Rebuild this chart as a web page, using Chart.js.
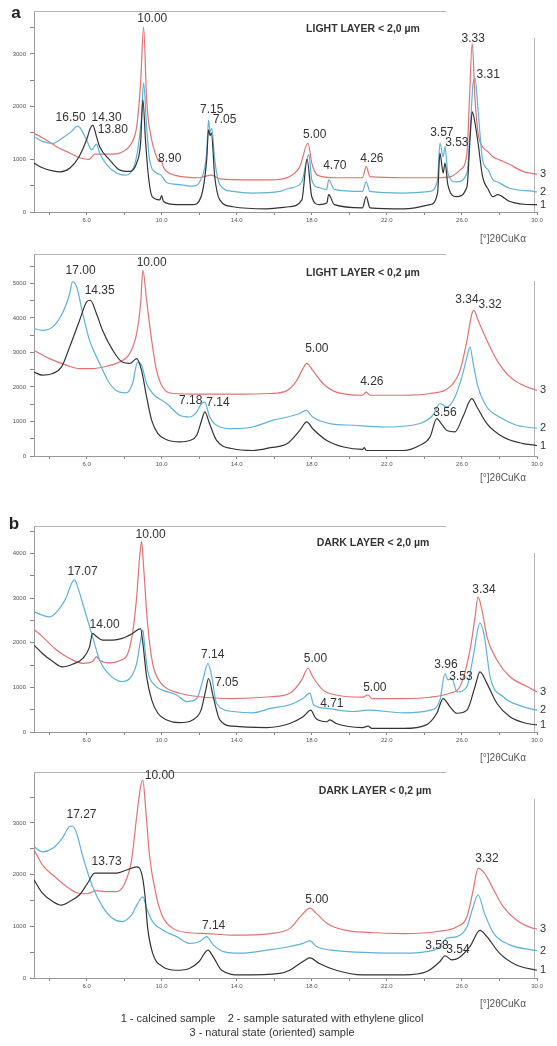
<!DOCTYPE html>
<html>
<head>
<meta charset="utf-8">
<script src="https://cdn.jsdelivr.net/npm/chart.js@4.4.1/dist/chart.umd.min.js"></script>
<style>
body { margin: 0; background: #fff; }
#page { position: relative; width: 557px; height: 1046px; overflow: hidden; font-family: Arial, "Liberation Sans", sans-serif; color: #333; }
canvas { position: absolute; left: 0; }
.t { position: absolute; transform: translate(-50%, -50%); white-space: nowrap; }
.ttl { font-weight: bold; font-size: 10.5px; color: #333; }
.ax { font-size: 10px; color: #555; }
.let { font-weight: bold; font-size: 17px; color: #222; }
.leg { font-size: 11px; color: #333; }
</style>
</head>
<body>
<div id="page">
  <canvas id="c1" width="557" height="232" style="top:0px"></canvas>
  <canvas id="c2" width="557" height="234" style="top:240px"></canvas>
  <canvas id="c3" width="557" height="252" style="top:500px"></canvas>
  <canvas id="c4" width="557" height="238" style="top:760px"></canvas>

  <div class="t let" style="left:16px;top:13px">a</div>
  <div class="t let" style="left:14px;top:524px">b</div>

  <div class="t ttl" style="left:363px;top:28px">LIGHT LAYER &lt; 2,0 µm</div>
  <div class="t ttl" style="left:363px;top:272px">LIGHT LAYER &lt; 0,2 µm</div>
  <div class="t ttl" style="left:373px;top:542px">DARK LAYER &lt; 2,0 µm</div>
  <div class="t ttl" style="left:375px;top:790px">DARK LAYER &lt; 0,2 µm</div>

  <div class="t ax" style="left:503px;top:238px">[°]2θCuKα</div>
  <div class="t ax" style="left:503px;top:477px">[°]2θCuKα</div>
  <div class="t ax" style="left:503px;top:757px">[°]2θCuKα</div>
  <div class="t ax" style="left:503px;top:1003px">[°]2θCuKα</div>

  <div class="t leg" style="left:272px;top:1018px">1 - calcined sample &nbsp;&nbsp; 2 - sample saturated with ethylene glicol</div>
  <div class="t leg" style="left:272px;top:1032px">3 - natural state (oriented) sample</div>
</div>

<script>
// ---- data : [2theta, counts] ----

// a) LIGHT LAYER < 2,0 um
var lightCoarseBlack = [[3.2,930],[3.65,840],[4.2,780],[4.6,760],[5.1,830],[5.6,1050],[6.0,1370],[6.2,1590],[6.33,1650],[6.53,1430],[6.7,1240],[7.23,990],[7.76,800],[8.3,770],[8.67,930],[8.88,1310],[9.0,2130],[9.15,1310],[9.3,670],[9.5,290],[9.9,230],[10.0,310],[10.1,200],[10.8,140],[11.65,140],[12.1,290],[12.4,990],[12.5,1560],[12.58,1450],[12.65,1500],[12.83,670],[13.1,230],[13.8,100],[15.6,60],[16.8,100],[17.47,230],[17.75,1000],[18.0,290],[18.4,140],[18.8,170],[18.9,330],[19.2,140],[20.7,80],[20.9,290],[21.1,80],[22.9,60],[24.3,140],[24.7,360],[24.83,1120],[25.0,740],[25.1,930],[25.25,520],[25.7,290],[26.27,480],[26.43,1370],[26.55,1900],[26.7,1680],[26.86,1310],[27.1,670],[27.4,430],[27.65,290],[27.9,330],[28.55,200],[29.8,140],[30,140]];
var lightCoarseBlue = [[3.2,1430],[3.65,1340],[4.2,1300],[4.7,1400],[5.2,1530],[5.5,1630],[5.65,1600],[6.0,1370],[6.27,1180],[6.53,1290],[6.7,1120],[7.07,900],[7.6,740],[8.03,700],[8.45,800],[8.7,1120],[8.93,1810],[9.04,2450],[9.2,1620],[9.36,990],[9.73,740],[9.97,700],[10.27,560],[10.96,520],[11.65,490],[12.1,620],[12.4,1120],[12.5,1750],[12.58,1520],[12.67,1590],[12.83,990],[13.1,520],[13.8,390],[14.85,360],[16.3,390],[16.8,450],[17.47,570],[17.73,990],[17.85,1090],[18.0,610],[18.4,460],[18.8,430],[18.9,610],[19.2,430],[20.7,390],[20.9,570],[21.1,390],[22.9,360],[24.3,390],[24.7,610],[24.83,1310],[25.0,1050],[25.1,1240],[25.25,740],[25.7,570],[26.27,740],[26.43,1500],[26.6,2450],[26.7,2540],[26.86,1940],[27.1,990],[27.4,800],[27.65,610],[27.9,570],[28.55,450],[29.8,390],[30,380]];
var lightCoarseRed = [[3.2,1490],[3.65,1410],[4.4,1240],[5.1,1120],[5.7,1020],[6.15,1000],[6.45,1100],[6.85,1100],[7.4,1100],[7.9,1140],[8.4,1310],[8.67,1620],[8.88,2450],[9.04,3510],[9.2,2130],[9.47,1370],[9.73,1050],[9.85,960],[9.95,990],[10.1,850],[10.27,770],[10.8,690],[12.0,650],[12.65,700],[13.1,630],[14.85,610],[15.8,610],[16.8,670],[17.36,860],[17.8,1310],[18.0,930],[18.3,700],[19.3,650],[20.7,650],[20.9,860],[21.1,670],[22.9,650],[24.7,650],[25.4,670],[25.9,800],[26.27,1120],[26.4,2130],[26.55,3200],[26.7,2130],[26.86,1500],[27.1,1240],[27.4,1140],[27.65,1050],[28.0,990],[28.55,900],[29.25,770],[29.8,730],[30,720]];
var lightCoarsePeaks = [['10.00',9.5,3670],['16.50',5.15,1790],['14.30',7.07,1790],['13.80',7.4,1560],['8.90',10.43,1010],['7.15',12.67,1940],['7.05',13.36,1750],['5.00',18.16,1470],['4.70',19.23,880],['4.26',21.2,1010],['3.57',24.93,1500],['3.53',25.73,1310],['3.33',26.6,3285],['3.31',27.4,2610]];

// LIGHT LAYER < 0,2 um
var lightFineBlack = [[3.2,2430],[3.65,2340],[4.2,2390],[4.67,2580],[5.1,3160],[5.63,3930],[6.0,4460],[6.2,4510],[6.53,4120],[6.85,3640],[7.4,3060],[7.9,2720],[8.3,2680],[8.67,2820],[8.93,2480],[9.2,1710],[9.47,1030],[9.8,650],[10.27,470],[10.96,410],[11.5,450],[11.87,600],[12.13,1030],[12.3,1280],[12.55,940],[12.93,450],[13.8,210],[14.85,160],[15.8,240],[16.7,360],[17.36,740],[17.73,990],[18.05,790],[18.8,450],[19.7,260],[20.7,190],[20.8,240],[20.9,160],[22.9,160],[23.76,310],[24.3,550],[24.66,1080],[24.83,990],[25.2,740],[25.63,700],[26.05,1130],[26.53,1660],[26.8,1420],[27.33,940],[28.2,550],[29.25,360],[29.9,310],[30,300]];
var lightFineBlue = [[3.2,3690],[3.65,3640],[4.2,3740],[4.7,4120],[5.1,4700],[5.25,5040],[5.47,4900],[5.8,4120],[6.16,3350],[6.7,2680],[7.23,2100],[7.76,1850],[8.13,1830],[8.45,2100],[8.72,2720],[8.93,2630],[9.2,2100],[9.52,1810],[10.27,1520],[10.96,1180],[11.5,1130],[11.87,1280],[12.13,1520],[12.3,1560],[12.56,1130],[13.1,840],[13.8,790],[14.85,840],[15.9,1030],[16.7,1130],[17.36,1230],[17.7,1320],[18.05,1130],[18.96,940],[20.2,890],[22.0,840],[23.76,940],[24.45,1180],[24.83,1520],[25.2,1420],[25.63,1710],[26.0,2290],[26.27,2870],[26.43,3160],[26.6,2680],[26.86,2000],[27.33,1420],[28.0,1130],[28.9,890],[29.9,810],[30,800]];
var lightFineRed = [[3.2,3060],[4.03,2820],[4.93,2630],[5.63,2530],[6.32,2530],[7.07,2600],[7.76,2720],[8.3,2970],[8.67,3550],[8.88,4410],[9.0,5380],[9.2,4510],[9.47,3350],[9.73,2480],[10.05,2000],[10.6,1810],[12.0,1790],[13.8,1790],[15.8,1810],[16.7,1900],[17.2,2190],[17.53,2530],[17.73,2680],[18.05,2480],[18.6,2100],[19.3,1850],[20.7,1760],[20.9,1850],[21.1,1760],[22.9,1760],[24.3,1810],[25.36,2000],[25.9,2480],[26.27,3350],[26.53,4120],[26.64,4220],[26.86,3930],[27.33,3350],[27.87,2770],[28.56,2290],[29.25,2050],[29.9,1920],[30,1900]];
var lightFinePeaks = [['17.00',5.68,5380],['14.35',6.7,4800],['10.00',9.47,5590],['7.18',11.55,1590],['7.14',13.0,1540],['5.00',18.27,3110],['4.26',21.2,2140],['3.56',25.1,1250],['3.34',26.27,4540],['3.32',27.5,4370]];

// b) DARK LAYER < 2,0 um
var darkCoarseBlack = [[3.2,1950],[3.65,1760],[4.2,1580],[4.72,1460],[5.25,1520],[5.8,1650],[6.16,1910],[6.32,2210],[6.53,2140],[6.85,2060],[7.4,2060],[7.9,2100],[8.45,2210],[8.88,2320],[9.0,1990],[9.2,1240],[9.47,720],[9.8,420],[10.27,270],[10.96,210],[11.65,270],[12.1,490],[12.35,940],[12.5,1200],[12.75,790],[13.1,270],[13.8,130],[15.6,100],[16.83,190],[17.53,340],[17.95,490],[18.2,310],[18.8,230],[18.96,270],[19.3,190],[20.7,100],[21.0,130],[21.2,80],[22.9,80],[24.1,160],[24.66,420],[25.0,750],[25.36,570],[25.73,420],[26.27,490],[26.7,1020],[26.96,1350],[27.33,1090],[27.87,640],[28.56,340],[29.47,190],[30,160]];
var darkCoarseBlue = [[3.2,2700],[3.65,2620],[4.03,2580],[4.56,2770],[4.93,3030],[5.2,3330],[5.36,3410],[5.52,3260],[5.9,2730],[6.32,2140],[6.7,1610],[7.23,1280],[7.87,1130],[8.3,1200],[8.67,1540],[8.88,2060],[9.0,2290],[9.1,1910],[9.25,1390],[9.63,1050],[10.05,940],[10.8,830],[11.33,680],[11.87,750],[12.2,1170],[12.47,1540],[12.67,1240],[12.93,640],[13.8,460],[14.85,430],[15.8,530],[16.83,610],[17.53,750],[17.9,870],[18.1,610],[18.8,530],[20.2,460],[21.0,490],[22.9,430],[24.3,490],[24.83,720],[25.1,1310],[25.25,1170],[25.47,1200],[25.73,900],[26.27,1020],[26.6,1690],[26.96,2440],[27.2,2140],[27.5,1240],[28.2,790],[29.25,570],[30,490]];
var darkCoarseRed = [[3.2,2300],[3.65,2140],[4.4,1840],[5.1,1650],[5.8,1540],[6.32,1580],[6.53,1690],[6.7,1610],[7.23,1550],[7.76,1600],[8.2,1760],[8.45,2210],[8.67,3030],[8.83,3930],[8.93,4270],[9.04,3700],[9.25,2440],[9.52,1540],[9.9,1130],[10.27,980],[10.96,870],[12.0,790],[13.8,750],[15.8,790],[16.83,870],[17.47,1170],[17.8,1430],[18.05,1240],[18.6,940],[19.3,830],[20.7,780],[21.0,830],[21.2,750],[22.9,750],[24.3,780],[25.36,870],[25.9,1020],[26.43,1840],[26.7,2580],[26.86,3030],[27.07,2730],[27.33,2140],[27.87,1610],[28.56,1240],[29.47,1020],[30,900]];
var darkCoarsePeaks = [['10.00',9.41,4430],['17.07',5.79,3590],['14.00',6.96,2400],['7.14',12.72,1730],['7.05',13.47,1110],['5.00',18.2,1650],['5.00',21.36,990],['4.71',19.07,640],['3.96',25.15,1500],['3.53',25.95,1230],['3.34',27.17,3200]];

// DARK LAYER < 0,2 um
var darkFineBlack = [[3.2,1900],[3.65,1640],[4.2,1480],[4.65,1410],[5.1,1480],[5.63,1610],[6.05,1830],[6.43,2030],[7.07,2030],[7.6,2030],[8.13,2090],[8.67,2150],[8.93,2030],[9.1,1640],[9.25,990],[9.52,480],[10.05,220],[10.8,150],[11.5,190],[12.0,320],[12.47,540],[12.75,410],[13.2,150],[14.2,60],[16.3,90],[16.83,150],[17.53,320],[17.9,390],[18.4,280],[19.3,150],[20.7,60],[22.9,60],[24.1,120],[24.83,320],[25.1,430],[25.47,350],[25.8,380],[26.43,610],[26.96,920],[27.33,800],[28.0,480],[28.9,250],[30,150]];
var darkFineBlue = [[3.2,2540],[3.65,2440],[4.2,2510],[4.7,2700],[5.1,2930],[5.25,2940],[5.47,2800],[5.8,2350],[6.32,1770],[6.85,1380],[7.4,1150],[7.9,1090],[8.4,1220],[8.72,1440],[9.0,1570],[9.2,1350],[9.52,1090],[10.05,930],[10.8,800],[11.5,670],[12.0,700],[12.4,800],[12.75,640],[13.3,510],[14.2,480],[15.8,550],[16.83,610],[17.53,670],[17.9,720],[18.25,610],[19.3,530],[21.1,490],[22.9,480],[24.1,510],[24.7,570],[25.2,770],[25.73,800],[26.27,990],[26.6,1380],[26.86,1610],[27.2,1250],[27.7,860],[28.56,640],[29.8,540],[30,530]];
var darkFineRed = [[3.2,2480],[3.65,2190],[4.4,1930],[4.93,1770],[5.47,1650],[6.0,1630],[6.53,1690],[7.07,1670],[7.6,1670],[8.03,1830],[8.4,2280],[8.67,3120],[8.88,3700],[9.0,3830],[9.14,3320],[9.36,2350],[9.73,1570],[10.05,1190],[10.6,960],[11.33,880],[12.4,860],[13.8,830],[15.8,860],[16.83,960],[17.47,1220],[17.9,1350],[18.25,1250],[18.8,1060],[19.7,930],[21.1,880],[22.9,860],[24.7,900],[25.73,990],[26.27,1190],[26.6,1700],[26.86,2120],[27.2,2030],[27.7,1700],[28.2,1380],[28.9,1120],[29.8,960],[30,950]];
var darkFinePeaks = [['10.00',9.9,3910],['17.27',5.73,3150],['13.73',7.07,2250],['7.14',12.77,1010],['5.00',18.27,1520],['3.32',27.33,2300],['3.58',24.67,620],['3.54',25.79,555]];

var seriesNames = ['1', '2', '3'];
var xTicks = [4, 6, 8, 10, 12, 14, 16, 18, 20, 22, 24, 26, 28, 30];

// partial frame (top line, right line) like the diffractometer print
var framePlugin = {
  id: 'frame',
  beforeDatasetsDraw: function(chart) {
    var a = chart.chartArea, ctx = chart.ctx;
    ctx.save();
    ctx.strokeStyle = '#b5b5b5';
    ctx.lineWidth = 1;
    ctx.beginPath();
    ctx.moveTo(a.left, a.top + 0.5);
    ctx.lineTo(a.left + (a.right - a.left) * 0.82, a.top + 0.5);
    ctx.moveTo(a.right - 2.5, a.top + 27);
    ctx.lineTo(a.right - 2.5, a.bottom);
    ctx.stroke();
    ctx.restore();
  }
};

// d-spacing labels and 1/2/3 numbers at line ends
var textPlugin = {
  id: 'peakText',
  afterDraw: function(chart, args, opts) {
    var ctx = chart.ctx, xs = chart.scales.x, ys = chart.scales.y;
    ctx.save();
    ctx.fillStyle = '#333';
    ctx.font = '12px Arial, "Liberation Sans", sans-serif';
    ctx.textAlign = 'center';
    ctx.textBaseline = 'middle';
    (opts.items || []).forEach(function(p) {
      ctx.fillText(p[0], xs.getPixelForValue(p[1]), ys.getPixelForValue(p[2]));
    });
    ctx.font = '11px Arial, "Liberation Sans", sans-serif';
    ctx.textAlign = 'left';
    chart.data.datasets.forEach(function(ds, i) {
      var last = ds.data[ds.data.length - 1];
      ctx.fillText(seriesNames[i], chart.chartArea.right + 3, ys.getPixelForValue(last.y));
    });
    ctx.restore();
  }
};

function toXY(arr) {
  return arr.map(function(p) { return { x: p[0], y: p[1] }; });
}

function line(arr, color) {
  return {
    data: toXY(arr),
    showLine: true,
    borderColor: color,
    borderWidth: 1.2,
    pointRadius: 0,
    cubicInterpolationMode: 'monotone',
    fill: false
  };
}

function drawPanel(id, black, blue, red, peaks, ymax, padTop, plotH) {
  var canvas = document.getElementById(id);
  var xH = canvas.height - padTop - plotH;
  return new Chart(canvas, {
    type: 'scatter',
    data: {
      datasets: [line(black, '#333333'), line(blue, '#5db2da'), line(red, '#e27272')]
    },
    plugins: [framePlugin, textPlugin],
    options: {
      responsive: false,
      animation: false,
      events: [],
      layout: { padding: { top: padTop, right: 20, left: 0, bottom: 0 } },
      scales: {
        x: {
          type: 'linear',
          min: 3.2,
          max: 30,
          afterBuildTicks: function(s) { s.ticks = xTicks.map(function(v) { return { value: v }; }); },
          afterFit: function(s) { s.height = xH; },
          grid: { drawOnChartArea: false, drawTicks: true, tickLength: 3, color: '#888' },
          border: { color: '#999' },
          ticks: {
            color: '#555',
            font: { size: 6 },
            padding: 2,
            maxRotation: 0,
            autoSkip: false,
            callback: function(v) { return v % 4 === 2 ? v.toFixed(1) : ''; }
          }
        },
        y: {
          min: 0,
          max: ymax,
          afterBuildTicks: function(s) {
            var t = [];
            for (var v = 0; v <= ymax; v += 500) t.push({ value: v });
            s.ticks = t;
          },
          afterFit: function(s) { s.width = 34; },
          grid: { drawOnChartArea: false, drawTicks: true, tickLength: 4, color: '#888' },
          border: { color: '#999' },
          ticks: {
            color: '#555',
            font: { size: 6 },
            padding: 4,
            autoSkip: false,
            callback: function(v) { return v % 1000 === 0 ? String(v) : ''; }
          }
        }
      },
      plugins: {
        legend: { display: false },
        tooltip: { enabled: false },
        peakText: { items: peaks }
      }
    }
  });
}

drawPanel('c1', lightCoarseBlack, lightCoarseBlue, lightCoarseRed, lightCoarsePeaks, 3815, 11, 201);
drawPanel('c2', lightFineBlack, lightFineBlue, lightFineRed, lightFinePeaks, 5850, 14, 202);
drawPanel('c3', darkCoarseBlack, darkCoarseBlue, darkCoarseRed, darkCoarsePeaks, 4620, 26, 206);
drawPanel('c4', darkFineBlack, darkFineBlue, darkFineRed, darkFinePeaks, 3985, 12, 206);
</script>
</body>
</html>
